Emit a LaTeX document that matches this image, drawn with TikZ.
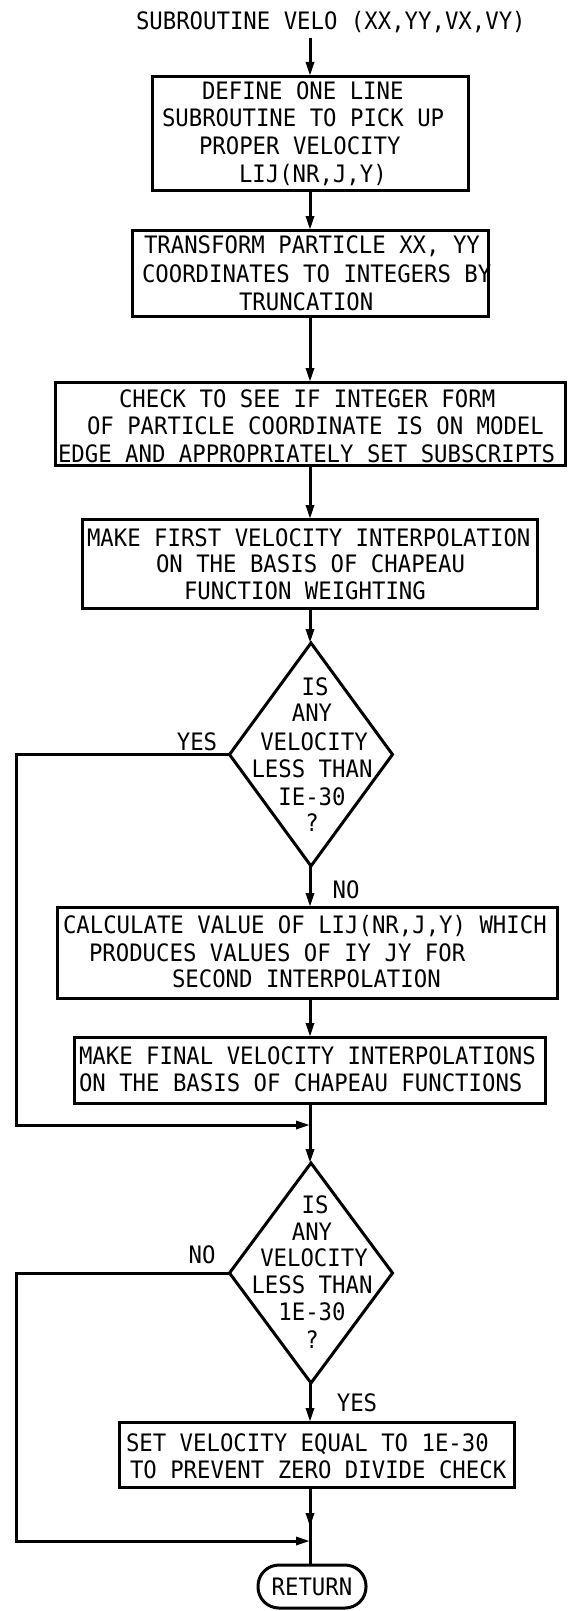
\documentclass[tikz,border=0pt]{standalone}
\usepackage{fontspec}
\newfontfamily\monofnt[FakeStretch=0.93]{DejaVu Sans Mono}
\usetikzlibrary{arrows.meta,shapes.geometric,calc}
\begin{document}
\frenchspacing
\begin{tikzpicture}[x=1pt,y=-1pt,
  every node/.style={inner sep=0pt,outer sep=0pt},
  ln/.style={font=\monofnt\fontsize{24}{27}\selectfont, text height=17.5pt, text depth=0pt, anchor=west},
  lc/.style={ln, anchor=center},
  boxn/.style={draw, line width=3pt, rectangle},
  dia/.style={draw, line width=3pt, diamond, aspect=1},
  conn/.style={line width=3pt},
  arr/.style={conn, -{Triangle[length=14pt,width=8pt]}}
]
\useasboundingbox (0,0) rectangle (575,1611);
\coordinate (ax) at (310,0);
\coordinate (lx) at (16,0);

% title
\node[ln] (title) at (136,21) {SUBROUTINE VELO (XX,YY,VX,VY)};

% box 1
\node[boxn, minimum width=316pt, minimum height=114pt] (b1) at (310,133) {};
\node[ln] (b1a) at (202,91)  {DEFINE ONE LINE};
\node[ln] (b1b) at (162,118) {SUBROUTINE TO PICK UP};
\node[ln] (b1c) at (199,146) {PROPER VELOCITY};
\node[ln] (b1d) at (239,174) {LIJ(NR,J,Y)};

% box 2
\node[boxn, minimum width=356pt, minimum height=86pt] (b2) at (310,273) {};
\node[ln] (b2a) at (144,245) {TRANSFORM PARTICLE XX, YY};
\node[ln] (b2b) at (142,274) {COORDINATES TO INTEGERS BY};
\node[ln] (b2c) at (239,302) {TRUNCATION};

% box 3
\node[boxn, minimum width=510pt, minimum height=83pt] (b3) at (310,423.5) {};
\node[ln] (b3a) at (119,399) {CHECK TO SEE IF INTEGER FORM};
\node[ln] (b3b) at (87,426)  {OF PARTICLE COORDINATE IS ON MODEL};
\node[ln] (b3c) at (58,454)  {EDGE AND APPROPRIATELY SET SUBSCRIPTS};

% box 4
\node[boxn, minimum width=455pt, minimum height=89pt] (b4) at (309.5,563.5) {};
\node[ln] (b4a) at (87,538)  {MAKE FIRST VELOCITY INTERPOLATION};
\node[ln] (b4b) at (156,564) {ON THE BASIS OF CHAPEAU};
\node[ln] (b4c) at (184,591) {FUNCTION WEIGHTING};

% diamond 1
\node[dia, minimum width=163pt, minimum height=223pt] (d1) at (311,754.5) {};
\node[lc] (d1a) at (315,687) {IS};
\node[lc] (d1b) at (312,713) {ANY};
\node[lc] (d1c) at (314,742) {VELOCITY};
\node[lc] (d1d) at (312,769) {LESS THAN};
\node[lc] (d1e) at (312,797) {IE-30};
\node[lc] (d1f) at (312,823) {?};
\node[lc] (yes1) at (197,742) {YES};
\node[lc] (no1) at (346,890) {NO};

% box 5
\node[boxn, minimum width=500pt, minimum height=91pt] (b5) at (307,952.5) {};
\node[ln] (b5a) at (63,925)  {CALCULATE VALUE OF LIJ(NR,J,Y) WHICH};
\node[ln] (b5b) at (89,953)  {PRODUCES VALUES OF IY JY FOR};
\node[ln] (b5c) at (172,979) {SECOND INTERPOLATION};

% box 6
\node[boxn, minimum width=471pt, minimum height=66pt] (b6) at (309.5,1070) {};
\node[ln] (b6a) at (79,1056) {MAKE FINAL VELOCITY INTERPOLATIONS};
\node[ln] (b6b) at (79,1083) {ON THE BASIS OF CHAPEAU FUNCTIONS};

% diamond 2
\node[dia, minimum width=163pt, minimum height=220pt] (d2) at (311,1273) {};
\node[lc] (d2a) at (315,1205) {IS};
\node[lc] (d2b) at (312,1232) {ANY};
\node[lc] (d2c) at (314,1258) {VELOCITY};
\node[lc] (d2d) at (312,1285) {LESS THAN};
\node[lc] (d2e) at (312,1312) {1E-30};
\node[lc] (d2f) at (312,1340) {?};
\node[lc] (no2) at (202,1255) {NO};
\node[lc] (yes2) at (357,1403) {YES};

% box 7
\node[boxn, minimum width=395pt, minimum height=65pt] (b7) at (316.5,1454.5) {};
\node[ln] (b7a) at (126,1443) {SET VELOCITY EQUAL TO 1E-30};
\node[ln] (b7b) at (130,1470) {TO PREVENT ZERO DIVIDE CHECK};

% return
\node[boxn, rounded corners=21pt, minimum width=108pt, minimum height=43pt,
      font=\monofnt\fontsize{24}{27}\selectfont, text height=17.5pt, text depth=0pt] (ret) at (312,1586.5) {RETURN};

% merge points
\coordinate (m1) at (310,1125);
\coordinate (m2) at (310,1541);
\coordinate (a7) at (310,1527);

% connectors
\draw[arr] ([yshift=-8pt]title.south -| ax) -- (b1.north -| ax);
\draw[arr] (b1.south -| ax) -- (b2.north -| ax);
\draw[arr] (b2.south -| ax) -- (b3.north -| ax);
\draw[arr] (b3.south -| ax) -- (b4.north -| ax);
\draw[arr] (b4.south -| ax) -- (d1.north -| ax);
\draw[arr] (d1.south -| ax) -- (b5.north -| ax);
\draw[arr] (b5.south -| ax) -- (b6.north -| ax);
\draw[arr] (b6.south -| ax) -- (d2.north -| ax);
\draw[arr] (d1.west) -- (d1.west -| lx) |- (m1);
\draw[arr] (d2.west) -- (d2.west -| lx) |- (m2);
\draw[arr] (d2.south -| ax) -- (b7.north -| ax);
\draw[conn] (b7.south -| ax) -- (ret.north -| ax);
\draw[arr] (b7.south -| ax) -- (a7);
\end{tikzpicture}
\end{document}
